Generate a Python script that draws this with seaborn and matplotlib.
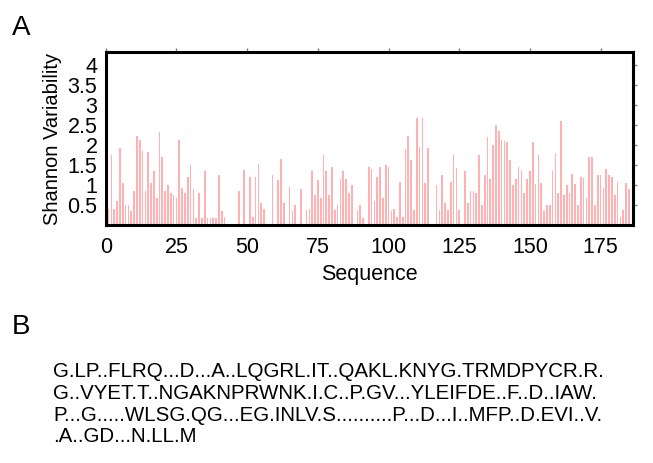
import numpy as np
import pandas as pd
import matplotlib
matplotlib.use('Agg')
import matplotlib.pyplot as plt
import seaborn as sns

# Posições da sequência (1..185) e variabilidade de Shannon
positions = list(range(1, 186))
variability = [
    0.41, 1.75, 0.41, 0.61, 1.93, 1.05, 0.50, 0.50, 0.35, 0.86,
    2.24, 2.14, 1.86, 0.86, 1.83, 1.05, 1.35, 0.68, 2.33, 1.70,
    0.86, 1.00, 0.80, 0.75, 0.68, 2.13, 0.93, 0.80, 1.20, 1.50,
    0.92, 0.18, 0.80, 0.18, 1.36, 0.18, 0.18, 0.18, 0.18, 1.26,
    0.35, 0.20, 0.00, 0.00, 0.00, 0.00, 0.86, 0.00, 1.38, 0.00,
    1.20, 0.20, 1.20, 1.53, 0.57, 0.41, 0.00, 0.00, 1.25, 0.00,
    1.13, 1.66, 0.57, 0.00, 0.97, 0.35, 0.50, 0.00, 0.92, 0.00,
    0.39, 0.41, 1.36, 0.75, 1.13, 0.68, 1.76, 1.36, 0.75, 1.45,
    0.39, 0.50, 1.16, 1.35, 1.16, 0.80, 1.00, 0.00, 0.39, 0.50,
    0.18, 0.00, 1.46, 1.40, 0.61, 1.20, 1.46, 0.68, 1.50, 1.45,
    0.35, 0.41, 0.20, 1.08, 0.20, 1.90, 2.24, 1.64, 0.39, 2.68,
    1.95, 2.68, 1.05, 1.93, 0.00, 0.00, 1.00, 0.39, 1.26, 0.56,
    0.39, 1.08, 1.75, 1.43, 0.39, 0.00, 1.35, 0.57, 0.85, 0.85,
    0.80, 1.76, 0.50, 1.25, 2.20, 1.16, 2.01, 2.50, 2.36, 2.14,
    2.12, 2.08, 1.64, 1.00, 1.16, 1.46, 1.37, 0.80, 1.16, 1.37,
    2.08, 1.03, 1.75, 1.05, 0.35, 0.50, 0.50, 1.36, 1.80, 0.80,
    2.62, 0.75, 1.00, 0.80, 1.29, 1.03, 0.50, 1.20, 1.18, 0.68,
    1.70, 1.72, 0.52, 1.27, 1.25, 0.93, 1.40, 1.26, 1.20, 0.75,
    1.08, 0.20, 0.39, 1.05, 0.92,
]
x_ticks = [0, 25, 50, 75, 100, 125, 150, 175]
y_ticks = [0.5, 1, 1.5, 2, 2.5, 3, 3.5, 4]
y_tick_labels = ['0.5', '1', '1.5', '2', '2.5', '3', '3.5', '4']

# Sequência consenso (painel B)
consensus_lines = [
    'G.LP..FLRQ...D...A..LQGRL.IT..QAKL.KNYG.TRMDPYCR.R.',
    'G..VYET.T..NGAKNPRWNK.I.C..P.GV...YLEIFDE..F..D..IAW.',
    'P...G.....WLSG.QG...EG.INLV.S..........P...D...I..MFP..D.EVI..V.',
    '.A..GD...N.LL.M',
]

df = pd.DataFrame({'Sequence': positions, 'Shannon Variability': variability})

sns.set_style('white')
plt.rcParams['font.family'] = ['Liberation Sans', 'DejaVu Sans']
plt.rcParams['text.color'] = 'black'
plt.rcParams['axes.labelcolor'] = 'black'

bar_color = '#ffb0b0'

fig = plt.figure(figsize=(6.53, 4.63), dpi=100)
ax = fig.add_axes([0.162, 0.513, 0.808, 0.375])

sns.barplot(data=df, x='Sequence', y='Shannon Variability', native_scale=True,
            color=bar_color, saturation=1, width=0.6, linewidth=0,
            edgecolor=bar_color, errorbar=None, ax=ax)

ax.set_xlim(0, 186.6)
ax.set_ylim(0, 4.34)
ax.set_xticks(x_ticks)
ax.set_xticklabels([str(t) for t in x_ticks], fontsize=15.5)
ax.set_yticks(y_ticks)
ax.set_yticklabels(y_tick_labels, fontsize=15.5)
ax.set_xlabel('Sequence', fontsize=15.5)
ax.set_ylabel('Shannon Variability', fontsize=14.5)
ax.xaxis.set_label_coords(0.5, -0.22)
ax.yaxis.set_label_coords(-0.083, 0.5)

# moldura grossa e ticks cinzentos para fora
for s in ax.spines.values():
    s.set_visible(True)
    s.set_linewidth(2.2)
    s.set_color('black')
ax.tick_params(which='both', direction='out', top=True, right=True,
               length=3, width=1, color='grey', labelcolor='black', pad=3)
ax.tick_params(axis='x', pad=5)

fig.text(0.018, 0.94, 'A', fontsize=20, va='center', ha='left')
fig.text(0.018, 0.294, 'B', fontsize=20, va='center', ha='left')

line_y = [0.197, 0.150, 0.103, 0.057]
for txt, yy in zip(consensus_lines, line_y):
    fig.text(0.081, yy, txt, fontsize=14.8, va='center', ha='left')

fig.savefig('out.png', dpi=100)
